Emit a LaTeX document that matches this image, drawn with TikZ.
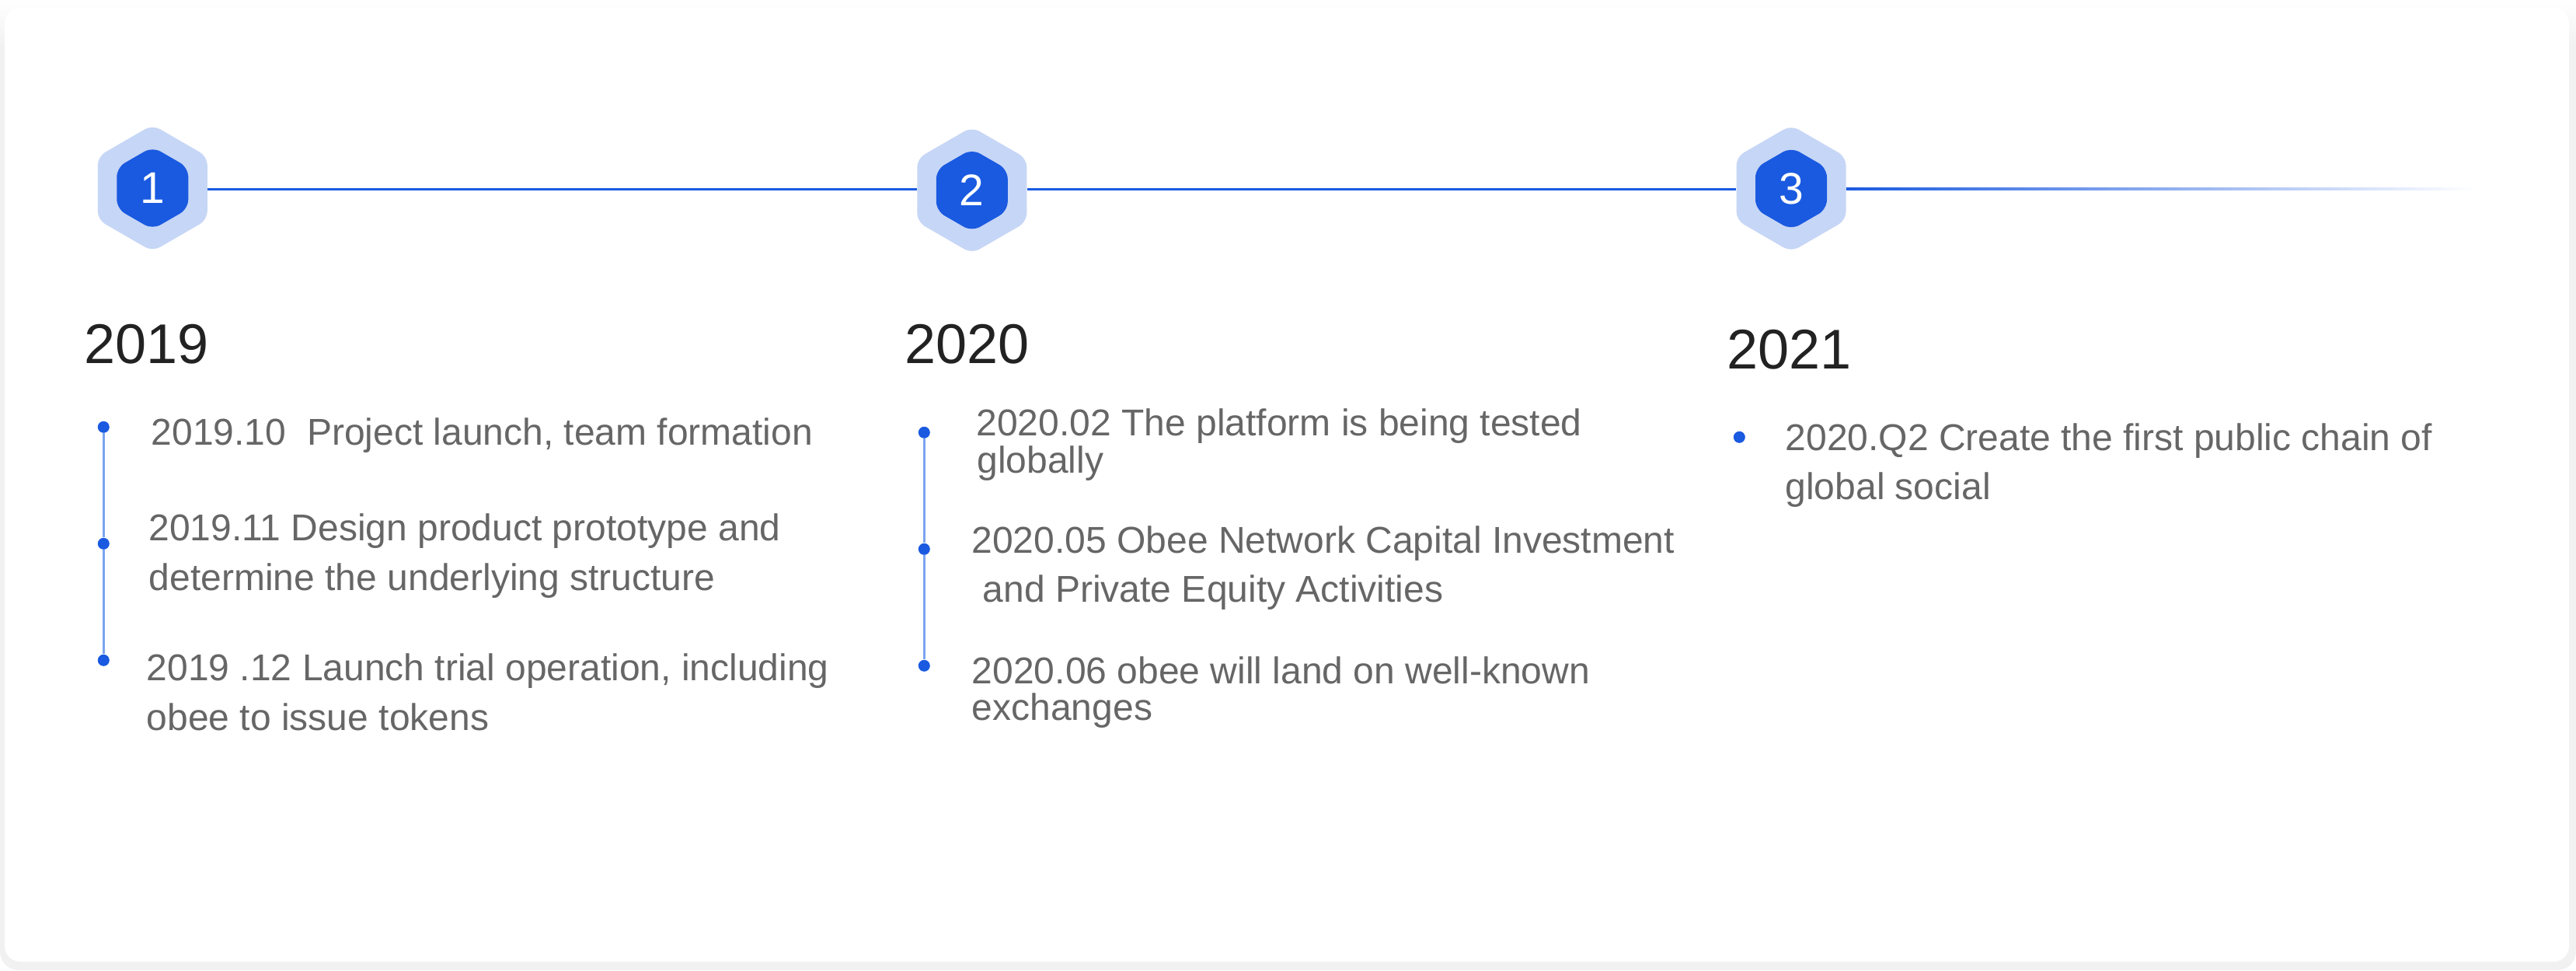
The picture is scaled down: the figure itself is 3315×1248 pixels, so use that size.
\documentclass[tikz,border=0pt]{standalone}
\usepackage{fontspec}
\setmainfont{Liberation Sans}
\usetikzlibrary{shapes.geometric}
\definecolor{hexblue}{HTML}{1A5AE0}
\definecolor{hexpale}{HTML}{C6D6F6}
\definecolor{stemblue}{HTML}{7BA4F0}
\definecolor{itemgrey}{HTML}{666666}
\definecolor{yearblack}{HTML}{222222}
\definecolor{edgegrey}{HTML}{F1F1F1}
\tikzset{
  hexouter/.style={regular polygon,regular polygon sides=6,regular polygon rotate=30,
    minimum size=81.4pt,inner sep=0pt,fill=hexpale,rounded corners=5.5pt},
  hexinner/.style={regular polygon,regular polygon sides=6,regular polygon rotate=30,
    minimum size=53.1pt,inner sep=0pt,fill=hexblue,rounded corners=6pt,text=white,
    font=\fontsize{28.5}{28.5}\selectfont},
  yearlabel/.style={anchor=base west,inner sep=0pt,text=yearblack,font=\fontsize{36}{36}\selectfont},
  itemline/.style={anchor=base west,inner sep=0pt,text=itemgrey,font=\fontsize{24}{24}\selectfont},
  itemdot/.style={circle,fill=hexblue,minimum size=7.5pt,inner sep=0pt},
  stemline/.style={draw=stemblue,line width=1.5pt},
  railline/.style={draw=hexblue,line width=1.5pt}
}
\begin{document}
\begin{tikzpicture}[x=0.5pt,y=-0.5pt]
      \useasboundingbox (0,0) rectangle (3315,1248);
      % card and its soft edge
      \fill[edgegrey,rounded corners=12pt] (0,0) rectangle (3315,1248);
      \shade[top color=white,bottom color=edgegrey] (0,0) rectangle (3315,60);
      \fill[white,rounded corners=10pt] (6,10) rectangle (3306,1237);
      % rail
      \draw
        (196.3,242) node[hexouter] (hexa){}
        (1250.8,244.7) node[hexouter] (hexb){}
        (2305,242.5) node[hexouter] (hexc){}
        (196.3,242) node[hexinner] (numa){1}
        (1250.8,244.7) node[hexinner] (numb){2}
        (2305,242.5) node[hexinner] (numc){3}
        (3185,243.3) coordinate (railend);
      \begin{scope}[railline]
        \draw (hexa.east |- railend) to (hexb.west |- railend);
        \draw (hexb.east |- railend) to (hexc.west |- railend);
      \end{scope}
      \shade[left color=hexblue,right color=white] ([yshift=-0.75pt]hexc.east |- railend) rectangle ([yshift=0.75pt]railend);
      % years
      \draw
        (108,467) node[yearlabel] (yeara){2019}
        (1164,467) node[yearlabel] (yearb){2020}
        (2222,474) node[yearlabel] (yearc){2021};
      % first column
      \draw
        (133.3,549.3) node[itemdot] (dota1){}
        (133.3,699.3) node[itemdot] (dota2){}
        (133.3,849.3) node[itemdot] (dota3){}
        (194.5,572.3) node[itemline] (texta1){2019.10\ \ Project launch, team formation}
        (191.2,695.7) node[itemline] (texta2){2019.11 Design product prototype and}
        (191.5,759) node[itemline] (texta3){determine the underlying structure}
        (188.5,875.7) node[itemline] (texta4){2019 .12 Launch trial operation, including}
        (188.5,939) node[itemline] (texta5){obee to issue tokens};
      % second column
      \draw
        (1189.3,556.3) node[itemdot] (dotb1){}
        (1189.3,706.3) node[itemdot] (dotb2){}
        (1189.3,856.3) node[itemdot] (dotb3){}
        (1256.2,560.7) node[itemline] (textb1){2020.02 The platform is being tested}
        (1257,608) node[itemline] (textb2){globally}
        (1250.2,711) node[itemline] (textb3){2020.05 Obee Network Capital Investment}
        (1264.5,774.3) node[itemline] (textb4){and Private Equity Activities}
        (1250.5,879) node[itemline] (textb5){2020.06 obee will land on well-known}
        (1250.5,926) node[itemline] (textb6){exchanges};
      % third column
      \draw
        (2238.3,562.3) node[itemdot] (dotc1){}
        (2297.2,579) node[itemline] (textc1){2020.Q2 Create the first public chain of}
        (2297.2,642.3) node[itemline] (textc2){global social};
      \begin{scope}[stemline]
        \draw (dota1) to (dota2);
        \draw (dota2) to (dota3);
        \draw (dotb1) to (dotb2);
        \draw (dotb2) to (dotb3);
      \end{scope}
    \end{tikzpicture}
\end{document}
